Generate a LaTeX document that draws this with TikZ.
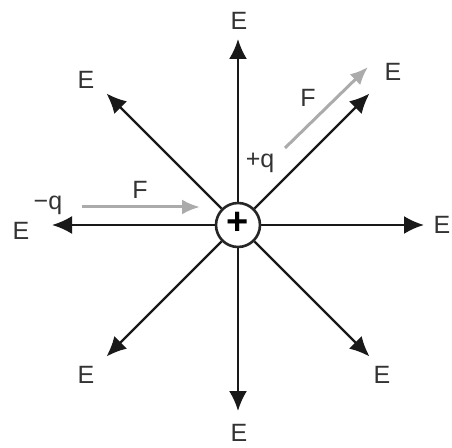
\documentclass[tikz,border=0pt]{standalone}
\usepackage{fontspec}
\setmainfont{Liberation Sans}
\usetikzlibrary{arrows.meta, positioning, calc}
\definecolor{fgray}{HTML}{ABABAB}
\definecolor{lgray}{HTML}{333333}
\tikzset{
  >=Latex,
  font=\fontsize{25}{30}\selectfont,
  field/.style={-{Latex[length=20pt,width=18pt]}, line width=2.4pt, draw=black!90},
  force/.style={-{Latex[length=18pt,width=15pt]}, line width=3pt, draw=fgray},
  lab/.style={inner sep=0pt, text=lgray},
  charge/.style={
    circle, draw=black!85, fill=white, line width=2.6pt,
    minimum size=44pt, inner sep=0pt
  }
}
\begin{document}
\begin{tikzpicture}[x=1pt,y=1pt]
  \useasboundingbox (0,0) rectangle (452,447);
  \node[charge] (q) at (238,222) {};
  % field lines
  \foreach \ang/\nm in {0/r,45/ur,90/u,135/ul,180/l,225/dl,270/d,315/dr} {
    \coordinate (t\nm) at ($(q.center)+(\ang:186pt)$);
    \draw[field] (q) -- (t\nm);
  }
  \node[font=\bfseries\fontsize{38}{38}\selectfont, inner sep=0pt] (plus) at ($(q.center)+(0,1.5)$) {+};
  % labels
  \node[lab] (Er)  at (442,222) {E};
  \node[lab] (Eur) at (393,375) {E};
  \node[lab] (Eu)  at (239,426) {E};
  \node[lab] (Eul) at (86,367)  {E};
  \node[lab] (El)  at (21,216)  {E};
  \node[lab] (Edl) at (86,72)   {E};
  \node[lab] (Ed)  at (239,14)  {E};
  \node[lab] (Edr) at (382,72)  {E};
  % forces on test charges
  \coordinate (fa) at (82,240);
  \coordinate (fb) at (200,240);
  \draw[force] (fa) -- (fb);
  \node[lab] (Fl) at (140,257) {F};
  \node[lab] (nq) at (48,242)  {−q};
  \coordinate (fc) at (285,299);
  \coordinate (fd) at (368,380);
  \draw[force] (fc) -- (fd);
  \node[lab] (Fr) at (308,349) {F};
  \node[lab] (pq) at (260,284) {+q};
\end{tikzpicture}
\end{document}
